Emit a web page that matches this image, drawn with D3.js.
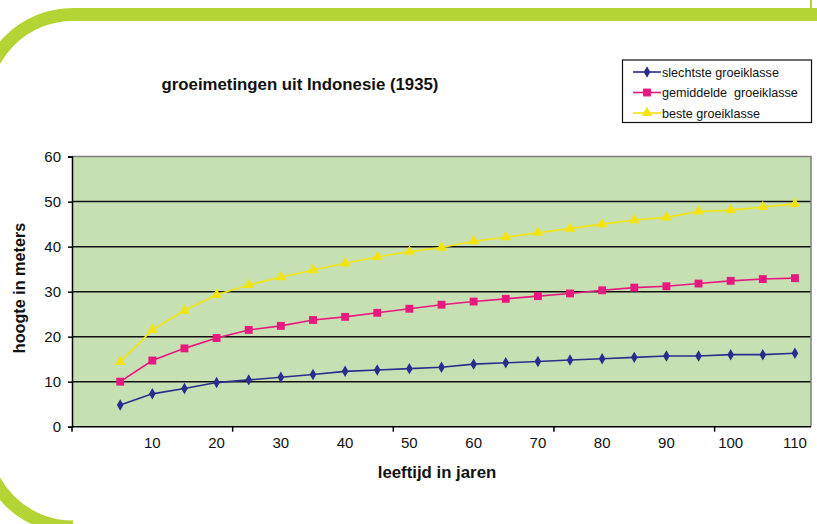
<!DOCTYPE html>
<html>
<head>
<meta charset="utf-8">
<script src="https://cdn.jsdelivr.net/npm/d3@7"></script>
<style>
  body { margin: 0; background: #fff; }
  svg { display: block; font-family: Arial, "Liberation Sans", sans-serif; }
</style>
</head>
<body>
<svg id="chart" width="817" height="524"></svg>
<script>
// leeftijd (jaren) per meting
let leeftijd = [5, 10, 15, 20, 25, 30, 35, 40, 45, 50, 55, 60, 65, 70, 75, 80, 85, 90, 95, 100, 105, 110];
// hoogte in meters
let slechtste = [4.8, 7.3, 8.5, 9.8, 10.4, 11.0, 11.6, 12.3, 12.6, 12.9, 13.2, 13.9, 14.2, 14.5, 14.8, 15.1, 15.4, 15.7, 15.7, 16.0, 16.0, 16.3];
let gemiddelde = [10.0, 14.7, 17.4, 19.7, 21.5, 22.4, 23.7, 24.4, 25.3, 26.2, 27.1, 27.8, 28.4, 29.0, 29.6, 30.3, 30.9, 31.2, 31.8, 32.4, 32.8, 33.0];
let beste = [14.4, 21.5, 25.8, 29.3, 31.5, 33.2, 34.8, 36.3, 37.7, 38.9, 39.8, 41.2, 42.1, 43.1, 44.0, 45.0, 45.9, 46.5, 47.8, 48.1, 48.8, 49.5];

let xLabels = [10, 20, 30, 40, 50, 60, 70, 80, 90, 100, 110];
let yTicks = [0, 10, 20, 30, 40, 50, 60];

let series = [
  {name: "slechtste groeiklasse", values: slechtste, color: "#2a2d8c", marker: "diamond"},
  {name: "gemiddelde  groeiklasse", values: gemiddelde, color: "#e8197e", marker: "square"},
  {name: "beste groeiklasse", values: beste, color: "#f3e40f", marker: "triangle"}
];

const svg = d3.select("#chart");

// lime frame in the corner
svg.append("path")
  .attr("d", "M 830,14.5 H 73 A 90 90 0 0 0 -17,104.5 V 437 A 90 90 0 0 0 73,527")
  .attr("fill", "none")
  .attr("stroke", "#b4d335")
  .attr("stroke-width", 13);
svg.append("line")
  .attr("x1", 811).attr("x2", 811).attr("y1", 0).attr("y2", 21)
  .attr("stroke", "#b4d335").attr("stroke-width", 2);

const pLeft = 72, pRight = 811, pTop = 156.6, pBottom = 426.7;

// first band is empty, like the excel category axis
const x = d3.scaleBand()
  .domain([0].concat(leeftijd))
  .range([pLeft, pRight])
  .padding(0);
const y = d3.scaleLinear().domain([0, 60]).range([pBottom, pTop]);
const cx = d => x(d) + x.bandwidth() / 2;

const g = svg.append("g");

g.append("rect")
  .attr("x", pLeft).attr("y", pTop)
  .attr("width", pRight - pLeft).attr("height", pBottom - pTop)
  .attr("fill", "#c6e0b4");

// gridlines
g.selectAll("line.grid")
  .data(yTicks.filter(v => v > 0 && v < 60))
  .enter().append("line")
    .classed("grid", true)
    .attr("x1", pLeft).attr("x2", pRight)
    .attr("y1", d => y(d)).attr("y2", d => y(d))
    .attr("stroke", "#111").attr("stroke-width", 1.5);

// plot border top/right
g.append("path")
  .attr("d", `M${pLeft},${pTop}H${pRight}V${pBottom}`)
  .attr("fill", "none").attr("stroke", "#808080").attr("stroke-width", 1.5);

// y axis
const yAxis = g.append("g")
  .attr("transform", `translate(${pLeft},0)`)
  .call(d3.axisLeft(y).tickValues(yTicks).tickSize(4).tickPadding(7));
yAxis.select(".domain").attr("stroke", "#000").attr("stroke-width", 1.5);
yAxis.selectAll(".tick line").attr("stroke", "#000").attr("stroke-width", 1.5);
yAxis.selectAll("text").attr("font-size", 15).attr("fill", "#111")
  .attr("font-family", "Arial, 'Liberation Sans', sans-serif");

// x axis
const xAxis = g.append("g")
  .attr("transform", `translate(0,${pBottom})`)
  .call(d3.axisBottom(x).tickValues(xLabels).tickSize(0).tickPadding(11));
xAxis.select(".domain").remove();
xAxis.selectAll("text").attr("font-size", 15).attr("fill", "#111")
  .attr("font-family", "Arial, 'Liberation Sans', sans-serif");

g.append("line")
  .attr("x1", pLeft).attr("x2", pRight)
  .attr("y1", pBottom).attr("y2", pBottom)
  .attr("stroke", "#000").attr("stroke-width", 1.5);

// tick marks every 5 categories
g.selectAll("line.xtick")
  .data(x.domain().filter((d, i) => i % 5 === 0))
  .enter().append("line")
    .classed("xtick", true)
    .attr("x1", d => x(d)).attr("x2", d => x(d))
    .attr("y1", pBottom).attr("y2", pBottom + 5)
    .attr("stroke", "#000").attr("stroke-width", 1.5);

// lines and markers
const line = d3.line().x((d, i) => cx(leeftijd[i])).y(d => y(d));

const symbolOf = {
  diamond: d3.symbol().type(d3.symbolDiamond).size(38),
  square: d3.symbol().type(d3.symbolSquare).size(62),
  triangle: d3.symbol().type(d3.symbolTriangle).size(50)
};

series.forEach(s => {
  g.append("path")
    .attr("d", line(s.values))
    .attr("fill", "none")
    .attr("stroke", s.color)
    .attr("stroke-width", 1.6);

  g.selectAll(null)
    .data(s.values)
    .enter().append("path")
      .attr("d", symbolOf[s.marker])
      .attr("transform", (d, i) => `translate(${cx(leeftijd[i])},${y(d)})`)
      .attr("fill", s.color);
});

// titles
svg.append("text")
  .attr("x", 300).attr("y", 90)
  .attr("text-anchor", "middle")
  .attr("font-size", 16.8).attr("font-weight", "bold").attr("fill", "#111")
  .text("groeimetingen uit Indonesie (1935)");

svg.append("text")
  .attr("x", 437).attr("y", 478)
  .attr("text-anchor", "middle")
  .attr("font-size", 16.8).attr("font-weight", "bold").attr("fill", "#111")
  .text("leeftijd in jaren");

svg.append("text")
  .attr("transform", "translate(25,288) rotate(-90)")
  .attr("text-anchor", "middle")
  .attr("font-size", 16.2).attr("font-weight", "bold").attr("fill", "#111")
  .text("hoogte in meters");

// legend
const lg = svg.append("g");
lg.append("rect")
  .attr("x", 622.5).attr("y", 60)
  .attr("width", 189).attr("height", 62.5)
  .attr("fill", "#fff").attr("stroke", "#111").attr("stroke-width", 1.2);

const rows = lg.selectAll("g.row")
  .data(series)
  .enter().append("g")
    .attr("transform", (d, i) => `translate(633,${72 + i * 20.5})`);
rows.append("line")
  .attr("x1", 0).attr("x2", 28)
  .attr("stroke", d => d.color).attr("stroke-width", 1.6);
rows.append("path")
  .attr("d", d => symbolOf[d.marker]())
  .attr("transform", "translate(14,0)")
  .attr("fill", d => d.color);
rows.append("text")
  .attr("x", 29).attr("y", 4.5)
  .attr("font-size", 12.6).attr("fill", "#111")
  .style("white-space", "pre")
  .text(d => d.name);
</script>
</body>
</html>
